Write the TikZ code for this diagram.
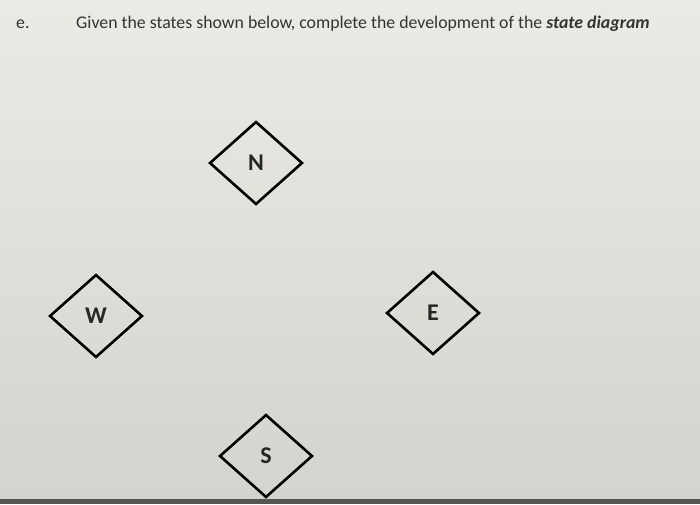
\documentclass[tikz,border=0pt]{standalone}
\usepackage{fontspec}
\setmainfont{Carlito}
\usepackage{xcolor}
\usetikzlibrary{shapes.geometric, positioning}

\definecolor{paperTop}{RGB}{236,234,228}
\definecolor{paperBottom}{RGB}{212,211,205}
\definecolor{screenEdge}{RGB}{85,85,83}

\newcommand{\statefont}{\fontsize{24}{24}\selectfont\bfseries}

\begin{document}
\begin{tikzpicture}[
		x=1pt, y=-1pt,
		% Defining consistent styles
		statebox/.style={
				diamond,
				draw=black,
				line width=2.6pt,
				minimum width=93pt,
				minimum height=83pt,
				inner sep=0pt,
				align=center,
				font=\statefont,
				text=black!85
			},
		titletext/.style={
				anchor=base west,
				inner sep=0pt,
				font=\fontsize{17.8}{18}\selectfont,
				text=black!80
			}
		]

		% Background of the page
		\shade[top color=paperTop, bottom color=paperBottom] (0,0) rectangle (700,499);
		\fill[screenEdge] (0,499) rectangle (700,504);
		\useasboundingbox (0,0) rectangle (700,504);

		% Question line
		\node[titletext] (item_label) at (16,28) {e.};
		\node[titletext] (question) at (76,28) {Given the states shown below, complete the development of the \textbf{\textit{state diagram}}};

		% States
		\node[statebox] (state_n) at (256,163) {N};
		\node[statebox] (state_w) at (96,316) {W};
		\node[statebox] (state_e) at (433,313) {E};
		\node[statebox] (state_s) at (266,456) {S};

	\end{tikzpicture}
\end{document}
